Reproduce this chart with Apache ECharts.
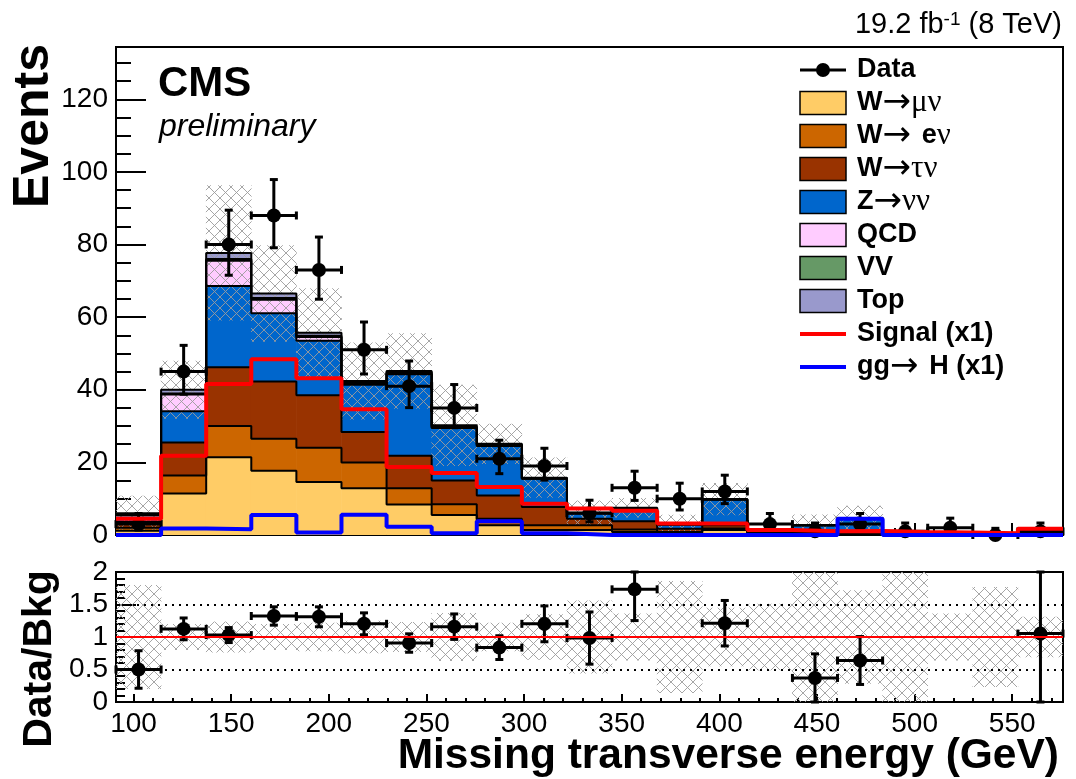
<!DOCTYPE html>
<html>
<head>
<meta charset="utf-8">
<script src="https://cdn.jsdelivr.net/npm/echarts@6/dist/echarts.min.js"></script>
<style>
  html, body { margin: 0; padding: 0; background: #ffffff; }
  #chart { width: 1076px; height: 779px; }
</style>
</head>
<body>
<div id="chart"></div>
<script>
// ---- Binning of the missing transverse energy (GeV) ----
const xMin = 91;
const xMax = 576;
const nBins = 21;

// ---- Observed events per bin ----
const dataCounts = [3, 45, 80, 88, 73, 51, 41, 35, 21, 19, 6, 13, 10, 12, 3, 1, 3, 1, 2, 0, 1];
// Poisson (68%) interval on the observed counts
const dataErrLo = [1.63, 6.23, 8.46, 8.89, 8.06, 6.66, 5.92, 5.44, 4.11, 3.89, 2.38, 3.47, 3.11, 3.36, 1.63, 0.83, 1.63, 0.83, 1.29, 0, 0.83];
const dataErrHi = [2.92, 7.23, 9.46, 9.89, 9.06, 7.66, 6.92, 6.44, 5.11, 4.89, 3.58, 4.57, 4.27, 4.47, 2.92, 2.30, 2.92, 2.30, 2.64, 1.84, 2.30];

// ---- Background predictions per bin ----
const wMuNu  = [1.2, 11.4, 21.4, 17.7, 14.6, 12.9, 8.4, 5.5, 2.7, 1.4, 1.4, 0.8, 0.4, 1.4, 0.2, 0.2, 0.3, 0, 0, 0, 0.05];
const wENu   = [0.8, 5.0, 8.6, 8.8, 9.4, 7.1, 4.5, 3.0, 1.8, 1.3, 1.3, 0.7, 0.4, 0.4, 0.1, 0.2, 0.2, 0, 0, 0, 0];
const wTauNu = [1.6, 9.1, 16.2, 15.8, 14.5, 8.4, 8.9, 6.5, 6.4, 5.0, 1.8, 2.3, 0.9, 0.9, 0.3, 0.4, 0.7, 0.1, 0.1, 0, 0.2];
const zNuNu  = [1.2, 8.6, 22.4, 18.8, 15.0, 13.0, 22.5, 14.5, 13.6, 7.8, 1.5, 3.4, 1.1, 7.1, 0.6, 1.9, 3.5, 0.3, 0.5, 0.3, 0.7];
const qcd    = [0.7, 4.6, 6.9, 3.7, 1.0, 0.3, 0.1, 0.1, 0.2, 0, 0, 0, 0, 0, 0, 0, 0, 0, 0, 0, 0];
const vv     = [0.1, 0.3, 0.5, 0.5, 0.4, 0.3, 0.4, 0.3, 0.2, 0.2, 0.1, 0.1, 0, 0, 0, 0, 0, 0, 0, 0, 0];
const topBkg = [0.4, 1.0, 1.7, 1.2, 0.8, 0.4, 0.4, 0.3, 0.2, 0.1, 0, 0.2, 0.2, 0.1, 0, 0, 0, 0, 0, 0, 0];
// relative uncertainty on the total background
const bkgRelUnc = [0.8, 0.2, 0.24, 0.2, 0.22, 0.25, 0.23, 0.37, 0.22, 0.35, 0.56, 0.36, 0.86, 0.45, 0.51, 1.1, 0.72, 1.2, 0.36, 0.77, 0.31];

// ---- Signal hypotheses ----
const signalVBF = [4.5, 21.8, 41.6, 48.4, 43.2, 34.6, 18.7, 17.1, 13.2, 8.6, 7.3, 6.7, 3.2, 3.2, 1.4, 1.0, 1.1, 0.8, 0.7, 0.5, 1.7];
const signalGGH = [0, 1.8, 1.6, 5.5, 0.7, 5.6, 2.3, 0.5, 3.8, 0.5, 0, 0, 0, 0, 0, 0, 4.5, 0, 0, 0, 0];

// ---- Axis tick values ----
const xMajorTicks = [100, 150, 200, 250, 300, 350, 400, 450, 500, 550];
const xMinorTicks = [100, 110, 120, 130, 140, 150, 160, 170, 180, 190, 200, 210, 220, 230, 240, 250, 260, 270, 280, 290, 300, 310, 320, 330, 340, 350, 360, 370, 380, 390, 400, 410, 420, 430, 440, 450, 460, 470, 480, 490, 500, 510, 520, 530, 540, 550, 560, 570];
const yMainMajor = [0, 20, 40, 60, 80, 100, 120];
const yMainMinor = [0, 5, 10, 15, 20, 25, 30, 35, 40, 45, 50, 55, 60, 65, 70, 75, 80, 85, 90, 95, 100, 105, 110, 115, 120, 125, 130];
const yRatioMajor = [0, 0.5, 1, 1.5, 2];
const yRatioMinor = [0, 0.1, 0.2, 0.3, 0.4, 0.5, 0.6, 0.7, 0.8, 0.9, 1, 1.1, 1.2, 1.3, 1.4, 1.5, 1.6, 1.7, 1.8, 1.9, 2];
const yMainMax = 134.4;

// ---- Legend entries ----
const legendLabels = [
  '{b|Data}',
  '{b|W}{a|→}{s|μν}',
  '{b|W}{a|→ }{b|e}{s|ν}',
  '{b|W}{a|→}{s|τν}',
  '{b|Z}{a|→}{s|νν}',
  '{b|QCD}',
  '{b|VV}',
  '{b|Top}',
  '{b|Signal (x1)}',
  '{b|gg}{a|→ }{b|H (x1)}'
];
const bkgColors = ['#ffcc66', '#cc6600', '#993300', '#0066cc', '#ffccff', '#669966', '#9999cc'];
const signalColors = ['#ff0000', '#0000ff'];

const FONT = '"Liberation Sans", Arial, Helvetica, sans-serif';
const SERIF = '"Liberation Serif", "DejaVu Serif", serif';

// ---- Derived quantities ----
const binW = (xMax - xMin) / nBins;
const edges = Array.from({ length: nBins + 1 }, (_, i) => xMin + i * binW);
const centers = Array.from({ length: nBins }, (_, i) => xMin + (i + 0.5) * binW);

const layers = [wMuNu, wENu, wTauNu, zNuNu, qcd, vv, topBkg];
let running = new Array(nBins).fill(0);
const stackLevels = layers.map(arr => {
  const lo = running.slice();
  running = running.map((v, i) => v + arr[i]);
  return { lo: lo, hi: running.slice() };
});
const bkgTotal = running.slice();

function stepPoints(vals) {
  const pts = [];
  vals.forEach((v, i) => { pts.push([edges[i], v]); pts.push([edges[i + 1], v]); });
  return pts;
}

// cross-hatch tile for the uncertainty bands
function hatchTile() {
  const n = 11;
  const c = document.createElement('canvas');
  c.width = n; c.height = n;
  const g = c.getContext('2d');
  g.strokeStyle = '#9c9c9c';
  g.lineWidth = 0.9;
  g.beginPath();
  g.moveTo(0, 0); g.lineTo(n, n);
  g.moveTo(n, 0); g.lineTo(0, n);
  g.stroke();
  return c;
}
const hatch = { image: hatchTile(), repeat: 'repeat' };

function rectItem(api, fill) {
  const a = api.coord([api.value(0), api.value(3)]);
  const b = api.coord([api.value(1), api.value(2)]);
  return {
    type: 'rect',
    shape: { x: a[0] - 0.3, y: a[1], width: b[0] - a[0] + 0.6, height: b[1] - a[1] },
    style: { fill: fill }
  };
}

function pointItem(api, yLo, yHi) {
  const x = api.value(0), y = api.value(1);
  const c = api.coord([x, y]);
  const l = api.coord([api.value(4), y]);
  const r = api.coord([api.value(5), y]);
  const top = api.coord([x, Math.min(y + api.value(3), yHi)]);
  const bot = api.coord([x, Math.max(y - api.value(2), yLo)]);
  const st = { stroke: '#000', lineWidth: 3 };
  const cap = 4;
  const kids = [
    { type: 'line', shape: { x1: l[0], y1: c[1], x2: r[0], y2: c[1] }, style: st },
    { type: 'line', shape: { x1: l[0], y1: c[1] - cap, x2: l[0], y2: c[1] + cap }, style: st },
    { type: 'line', shape: { x1: r[0], y1: c[1] - cap, x2: r[0], y2: c[1] + cap }, style: st },
    { type: 'line', shape: { x1: c[0], y1: top[1], x2: c[0], y2: bot[1] }, style: st },
    { type: 'line', shape: { x1: c[0] - cap, y1: top[1], x2: c[0] + cap, y2: top[1] }, style: st }
  ];
  if (api.value(2) > 0) {
    kids.push({ type: 'line', shape: { x1: c[0] - cap, y1: bot[1], x2: c[0] + cap, y2: bot[1] }, style: st });
  }
  kids.push({ type: 'circle', shape: { cx: c[0], cy: c[1], r: 7 }, style: { fill: '#000' } });
  return { type: 'group', children: kids };
}

const series = [];

// stacked background fills
layers.forEach((arr, k) => {
  series.push({
    type: 'custom', xAxisIndex: 0, yAxisIndex: 0, clip: true, silent: true,
    data: arr.map((_, i) => [edges[i], edges[i + 1], stackLevels[k].lo[i], stackLevels[k].hi[i]]),
    encode: { x: [0, 1], y: [2, 3] },
    renderItem: (p, api) => rectItem(api, bkgColors[k])
  });
});
// black outlines of each stacked histogram
stackLevels.forEach(lv => {
  series.push({
    type: 'line', xAxisIndex: 0, yAxisIndex: 0, data: stepPoints(lv.hi),
    symbol: 'none', silent: true, clip: true,
    lineStyle: { color: '#000', width: 2 }
  });
});
// background uncertainty band
series.push({
  type: 'custom', xAxisIndex: 0, yAxisIndex: 0, clip: true, silent: true,
  data: bkgTotal.map((t, i) => [edges[i], edges[i + 1], Math.max(0, t * (1 - bkgRelUnc[i])), t * (1 + bkgRelUnc[i])]),
  encode: { x: [0, 1], y: [2, 3] },
  renderItem: (p, api) => rectItem(api, hatch)
});
// signal shapes
[signalVBF, signalGGH].forEach((arr, k) => {
  series.push({
    type: 'line', xAxisIndex: 0, yAxisIndex: 0, data: stepPoints(arr),
    symbol: 'none', silent: true, clip: false,
    lineStyle: { color: signalColors[k], width: 4 }
  });
});
// observed data
series.push({
  type: 'custom', xAxisIndex: 0, yAxisIndex: 0, clip: false, silent: true,
  data: dataCounts.map((n, i) => [centers[i], n, dataErrLo[i], dataErrHi[i], edges[i], edges[i + 1]]),
  encode: { x: 0, y: 1 },
  renderItem: (p, api) => pointItem(api, -1e9, 1e9)
});

// ---- Ratio panel ----
series.push({
  type: 'custom', xAxisIndex: 2, yAxisIndex: 2, clip: true, silent: true,
  data: bkgRelUnc.map((u, i) => [edges[i], edges[i + 1], Math.max(0, 1 - u), Math.min(2, 1 + u)]),
  encode: { x: [0, 1], y: [2, 3] },
  renderItem: (p, api) => rectItem(api, hatch)
});
series.push({
  type: 'line', xAxisIndex: 2, yAxisIndex: 2, data: [], silent: true,
  markLine: {
    symbol: 'none', silent: true, animation: false,
    label: { show: false },
    data: [
      { yAxis: 0.5, lineStyle: { color: '#000', width: 2, type: [2, 5] } },
      { yAxis: 1.5, lineStyle: { color: '#000', width: 2, type: [2, 5] } },
      { yAxis: 1, lineStyle: { color: '#ff0000', width: 2, type: 'solid' } }
    ]
  }
});
const ratioPoints = [];
dataCounts.forEach((n, i) => {
  const r = n / bkgTotal[i];
  const e = Math.sqrt(n) / bkgTotal[i];
  if (n > 0 && r <= 2) ratioPoints.push([centers[i], r, e, e, edges[i], edges[i + 1]]);
});
series.push({
  type: 'custom', xAxisIndex: 2, yAxisIndex: 2, clip: false, silent: true,
  data: ratioPoints,
  encode: { x: 0, y: 1 },
  renderItem: (p, api) => pointItem(api, 0, 2)
});

// ---- Axes ----
const tickLine = { color: '#000', width: 2 };
function xAx(grid, majorLen, minor, withLabels) {
  return {
    type: 'value', gridIndex: grid, min: xMin, max: xMax, position: 'bottom',
    axisLine: { show: false }, splitLine: { show: false },
    axisTick: { show: true, inside: true, length: majorLen, lineStyle: tickLine, customValues: minor ? xMinorTicks : xMajorTicks },
    axisLabel: withLabels
      ? { show: true, customValues: xMajorTicks, color: '#000', fontSize: 28, fontFamily: FONT, margin: 8 }
      : { show: false }
  };
}
function yAx(grid, max, ticks, len, withLabels) {
  return {
    type: 'value', gridIndex: grid, min: 0, max: max, position: 'left',
    axisLine: { show: false }, splitLine: { show: false },
    axisTick: { show: true, inside: true, length: len, lineStyle: tickLine, customValues: ticks },
    axisLabel: withLabels
      ? { show: true, customValues: ticks, color: '#000', fontSize: 28, fontFamily: FONT, margin: 8 }
      : { show: false }
  };
}

// ---- Legend and text ----
const graphics = [];
const legX = 800, legW = 46, legH = 23, legY0 = 70, legStep = 33, legTextX = 857;
const richStyles = {
  b: { fontFamily: FONT, fontWeight: 'bold', fontSize: 27, fill: '#000' },
  a: { fontFamily: '"DejaVu Sans", sans-serif', fontSize: 34, fill: '#000' },
  s: { fontFamily: SERIF, fontSize: 31, fill: '#000' }
};
legendLabels.forEach((lab, i) => {
  const cy = legY0 + i * legStep;
  if (i === 0) {
    graphics.push({ type: 'line', shape: { x1: legX, y1: cy, x2: legX + legW, y2: cy }, style: { stroke: '#000', lineWidth: 3 } });
    graphics.push({ type: 'circle', shape: { cx: legX + legW / 2, cy: cy, r: 7 }, style: { fill: '#000' } });
  } else if (i <= 7) {
    graphics.push({ type: 'rect', shape: { x: legX, y: cy - legH / 2, width: legW, height: legH }, style: { fill: bkgColors[i - 1], stroke: '#000', lineWidth: 1.5 } });
  } else {
    graphics.push({ type: 'line', shape: { x1: legX, y1: cy, x2: legX + legW, y2: cy }, style: { stroke: signalColors[i - 8], lineWidth: 4 } });
  }
  graphics.push({
    type: 'text', x: legTextX, y: cy,
    style: { text: lab, rich: richStyles, align: 'left', verticalAlign: 'middle', textAlign: 'left', textVerticalAlign: 'middle' }
  });
});
function label(x, y, text, font, align, rot) {
  return {
    type: 'text', x: x, y: y, rotation: rot || 0,
    style: { text: text, font: font, fill: '#000', align: align, verticalAlign: 'middle', textAlign: align, textVerticalAlign: 'middle' }
  };
}
graphics.push(label(158, 84, 'CMS', 'bold 42px ' + FONT, 'left'));
graphics.push(label(159, 127, 'preliminary', 'italic 32px ' + FONT, 'left'));
graphics.push(label(34, 126, 'Events', 'bold 50px ' + FONT, 'center', Math.PI / 2));
graphics.push(label(40, 659, 'Data/Bkg', 'bold 41px ' + FONT, 'center', Math.PI / 2));
graphics.push(label(1059, 756, 'Missing transverse energy (GeV)', 'bold 42.5px ' + FONT, 'right'));
graphics.push({
  type: 'text', x: 1062, y: 25,
  style: {
    text: '19.2 fb{sup|-1} (8 TeV)',
    font: '29px ' + FONT, fill: '#000',
    align: 'right', verticalAlign: 'middle', textAlign: 'right', textVerticalAlign: 'middle',
    rich: { sup: { fontFamily: FONT, fontSize: 19, verticalAlign: 'top', fill: '#000' } }
  }
});

const option = {
  animation: false,
  backgroundColor: '#ffffff',
  grid: [
    { left: 116, top: 47, width: 947, height: 488, show: true, borderColor: '#000', borderWidth: 2, backgroundColor: 'transparent' },
    { left: 116, top: 572, width: 947, height: 130, show: true, borderColor: '#000', borderWidth: 2, backgroundColor: 'transparent' }
  ],
  xAxis: [
    xAx(0, 12, false, false),
    xAx(0, 7, true, false),
    xAx(1, 8, false, true),
    xAx(1, 4, true, false)
  ],
  yAxis: [
    yAx(0, yMainMax, yMainMajor, 30, true),
    yAx(0, yMainMax, yMainMinor, 15, false),
    yAx(1, 2, yRatioMajor, 20, true),
    yAx(1, 2, yRatioMinor, 9, false)
  ],
  series: series,
  graphic: graphics
};

const chart = echarts.init(document.getElementById('chart'), null, { renderer: 'canvas' });
chart.setOption(option);
</script>
</body>
</html>
